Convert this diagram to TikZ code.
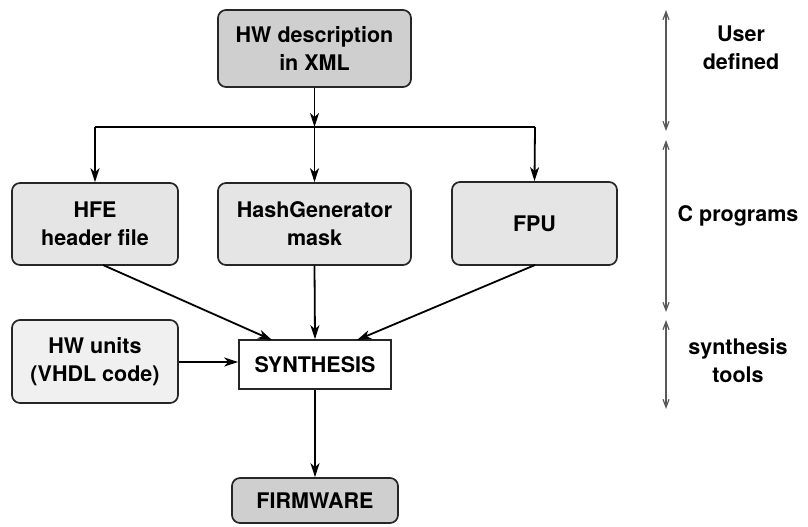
\documentclass[tikz,border=0pt]{standalone}
\usepackage{fontspec}
\setmainfont{TeX Gyre Heros}
\usetikzlibrary{arrows.meta}
\begin{document}
\begin{tikzpicture}[x=1pt,y=-1pt,
  box/.style={draw=black!85,line width=1.7pt,rounded corners=8pt,inner sep=0pt,align=center,font=\fontsize{21.5}{28}\selectfont\bfseries},
  flow/.style={line width=1.8pt,-{Stealth[length=14pt,width=9pt,inset=4pt]}},
  span/.style={draw=black!65,line width=1.4pt,{Straight Barb[length=8pt,width=6pt,line width=1.2pt]}-{Straight Barb[length=8pt,width=6pt,line width=1.2pt]}},
  lbl/.style={align=center,font=\fontsize{21.5}{28}\selectfont\bfseries}]
\useasboundingbox (0,0) rectangle (808,527);
\node[box,fill=black!19,minimum width=193pt,minimum height=77pt] (xml) at (314.5,48.5) {HW description\\in XML};
\node[box,fill=black!10,minimum width=166pt,minimum height=82pt] (hfe) at (95,224) {HFE\\header file};
\node[box,fill=black!10,minimum width=193pt,minimum height=82pt] (hash) at (314.5,224) {HashGenerator\\mask};
\node[box,fill=black!10,minimum width=165pt,minimum height=83pt] (fpu) at (534.5,223.5) {FPU};
\node[box,fill=black!6,minimum width=166pt,minimum height=83pt] (hwu) at (95,361.5) {HW units\\(VHDL code)};
\node[box,fill=white,rounded corners=0pt,minimum width=152pt,minimum height=49pt] (syn) at (315,364.5) {SYNTHESIS};
\node[box,fill=black!19,minimum width=166pt,minimum height=45pt] (fw) at (315,500.5) {FIRMWARE};
\coordinate (bl) at (95,127);
\coordinate (bm) at (314.5,127);
\coordinate (br) at (535,127);
\draw[flow] (xml.south) -- (bm);
\draw[line width=1.8pt] (bl) -- (br);
\draw[flow] (bl) -- (hfe.north);
\draw[flow] (bm) -- (hash.north);
\draw[flow] (br) -- (fpu.north);
\draw[flow] (103,265) -- (272,340);
\draw[flow] (hash.south) -- (syn.north);
\draw[flow] (535,265) -- (357,340);
\draw[flow] (hwu.east |- 0,362) -- (syn.west |- 0,362);
\draw[flow] (syn.south) -- (fw.north);
\coordinate (a1) at (666,10);
\coordinate (a2) at (666,131);
\coordinate (a3) at (666,140);
\coordinate (a4) at (666,312);
\coordinate (a5) at (666,320);
\coordinate (a6) at (666,409);
\draw[span] (a1) -- (a2);
\draw[span] (a3) -- (a4);
\draw[span] (a5) -- (a6);
\node[lbl] (l1) at (741,48) {User\\defined};
\node[lbl] (l2) at (738,216) {C programs};
\node[lbl] (l3) at (738,361) {synthesis\\tools};
\end{tikzpicture}
\end{document}
